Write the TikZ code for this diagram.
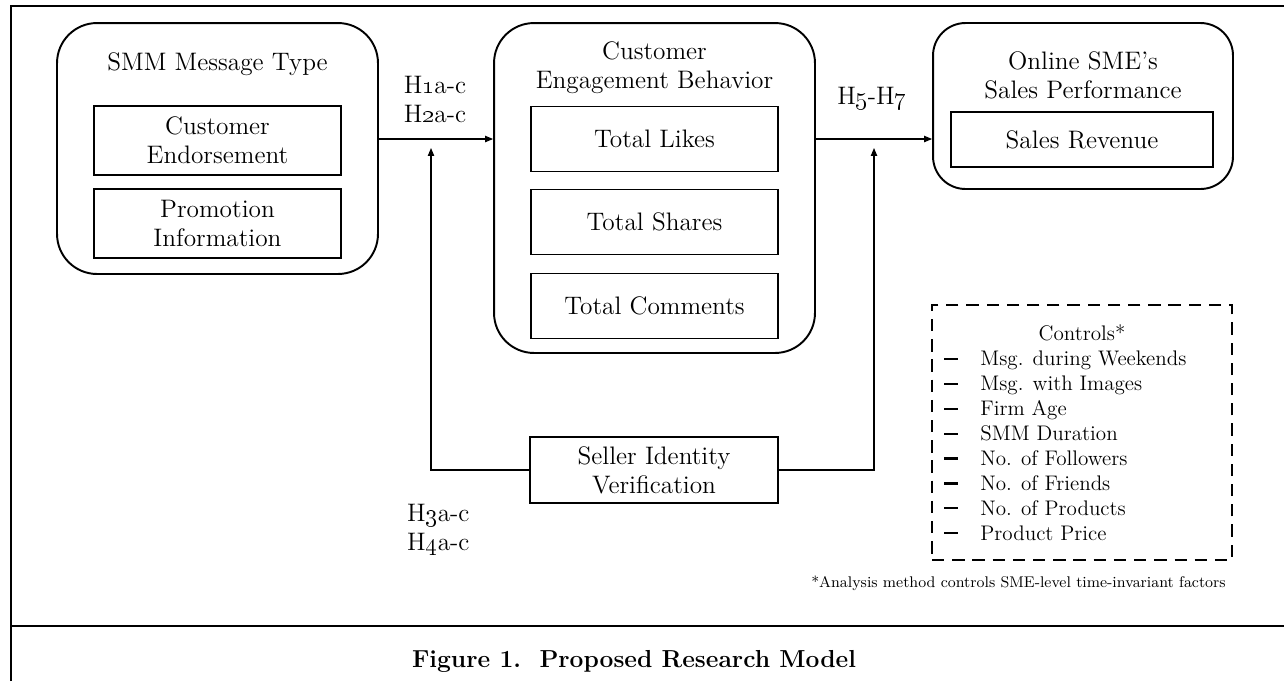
\documentclass[tikz,border=0pt]{standalone}
\usepackage{tikz}
\usetikzlibrary{arrows.meta,positioning}

\newcommand{\boxfont}{\fontsize{14.4}{16.5}\selectfont}
\newcommand{\listfont}{\fontsize{12}{14.2}\selectfont}
\newcommand{\dashmark}{\rule[3.2pt]{7.5pt}{1.2pt}\hspace{13pt}}

\begin{document}
\begin{tikzpicture}[x=0.02cm, y=-0.02cm,
    grp/.style={draw, line width=1.1pt, rounded corners=0.8cm},
    var/.style={draw, line width=1.1pt, align=center, minimum width=4.94cm, minimum height=1.3cm, inner sep=0pt, font=\boxfont},
    ttl/.style={align=center, font=\boxfont},
    hyp/.style={align=center, font=\boxfont},
    arr/.style={-{Triangle[length=4.5pt,width=3.6pt]}, line width=0.6pt},
    frame/.style={line width=1.2pt},
]
\useasboundingbox (0,0) rectangle (1284,681);

% frame
\draw[frame] (11,681) -- (11,6) -- (1284,6);
\draw[frame] (11,626) -- (1284,626);

% message type
\node[grp, minimum width=6.42cm, minimum height=5.02cm] (smm) at (217.5,148.5) {};
\node[ttl] (smm_t) at (217.5,64) {SMM Message Type};
\node[var, minimum height=1.38cm] (endorse) at (217.5,140.5) {Customer\\Endorsement};
\node[var, minimum height=1.38cm] (promo) at (217.5,223.5) {Promotion\\Information};

% engagement
\node[grp, minimum width=6.42cm, minimum height=6.6cm] (ceb) at (654.5,188) {};
\node[ttl] (ceb_t) at (654.5,67.5) {Customer\\Engagement Behavior};
\node[var] (likes) at (654.5,139) {Total Likes};
\node[var] (shares) at (654.5,222) {Total Shares};
\node[var] (comments) at (654.5,306) {Total Comments};

% performance
\node[grp, rounded corners=0.65cm, minimum width=6cm, minimum height=3.32cm] (perf) at (1083,106) {};
\node[ttl] (perf_t) at (1083,75) {Online SME’s\\Sales Performance};
\node[var, minimum width=5.24cm, minimum height=1.1cm] (revenue) at (1082,139.5) {Sales Revenue};

% moderator
\node[var, minimum width=4.96cm, minimum height=1.32cm] (seller) at (654,470) {Seller Identity\\Verification};
\coordinate (m1) at (431,148);
\coordinate (m2) at (874,148);

% controls
\node[draw, line width=1.1pt, dash pattern=on 7pt off 4.5pt, minimum width=6cm, minimum height=5.1cm] (ctrl) at (1082,432.5) {};
\node[font=\listfont] (ctrl_t) at (1082,333) {Controls*};
\node[font=\listfont, align=left, anchor=west, inner sep=0pt] (ctrl_l) at (944,445.5) {\dashmark Msg. during Weekends\\
  \dashmark Msg. with Images\\
  \dashmark Firm Age\\
  \dashmark SMM Duration\\
  \dashmark No. of Followers\\
  \dashmark No. of Friends\\
  \dashmark No. of Products\\
  \dashmark Product Price};
\node[font=\fontsize{8.8}{11}\selectfont, anchor=east, inner sep=0pt] (note) at (1226,583) {*Analysis method controls SME-level time-invariant factors};

% hypotheses
\node[hyp] (h12) at (435,99) {H\oldstylenums{1}a-c\\H\oldstylenums{2}a-c};
\node[hyp] (h57) at (872,98) {H\oldstylenums{5}-H\oldstylenums{7}};
\node[hyp, align=left, anchor=west] (h34) at (401,529.5) {H\oldstylenums{3}a-c\\H\oldstylenums{4}a-c};

% arrows
\draw[arr] (smm.east |- likes) -- (ceb.west |- likes);
\draw[arr] (ceb.east |- likes) -- (perf.west |- likes);
\draw[arr] (seller.west) -| (m1);
\draw[arr] (seller.east) -| (m2);

% caption
\node[font=\bfseries\fontsize{14}{16}\selectfont] (cap) at (634,661) {Figure 1.\ \ Proposed Research Model};

\end{tikzpicture}
\end{document}
